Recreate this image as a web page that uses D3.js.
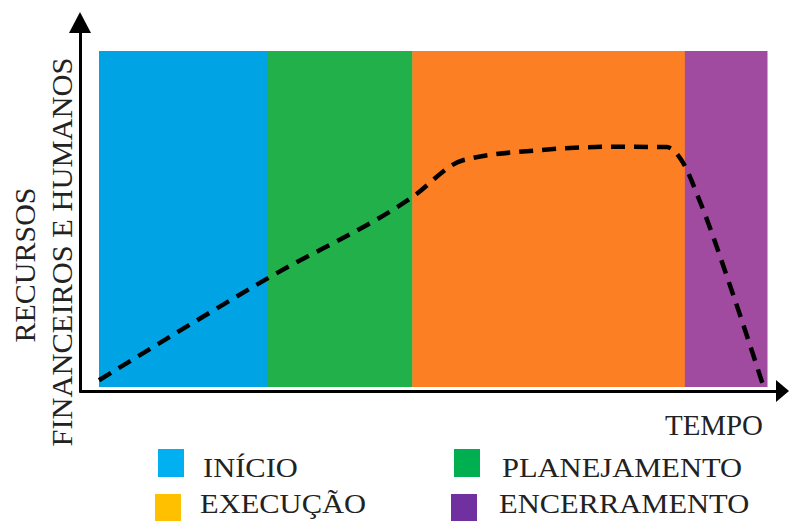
<!DOCTYPE html>
<html>
<head>
<meta charset="utf-8">
<script src="https://cdn.jsdelivr.net/npm/d3@7"></script>
<style>
  html, body { margin: 0; padding: 0; background: #fff; }
  svg { display: block; }
  text { font-family: "Liberation Serif", "Times New Roman", serif; }
</style>
</head>
<body>
<svg id="chart" width="789" height="521"></svg>
<script>
// Project phases along the time axis
const phases = ["INÍCIO", "PLANEJAMENTO", "EXECUÇÃO", "ENCERRAMENTO"];
const phaseStart = [0, 2.53, 4.69, 8.77];
const phaseEnd = [2.53, 4.69, 8.77, 10];
const bandColors = ["#00a3e3", "#22b04b", "#fd7f24", "#a04aa0"];
const legendColors = ["#00b0f0", "#00b050", "#ffc000", "#7030a0"];

// Resource level over time (dashed curve)
const timeValues = [0, 2.53, 4.69, 5.45, 6.6, 7.7, 8.5, 8.72, 9.0, 9.45, 9.95];
const resourceValues = [2, 32.4, 56.5, 67.5, 70.5, 71.5, 71.4, 67.5, 55, 30, 0];

const svg = d3.select("#chart");

const x = d3.scaleLinear().domain([0, 10]).range([99, 767]);
const y = d3.scaleLinear().domain([0, 100]).range([387, 51]);

// Phase bands
svg.append("g").selectAll("rect")
  .data(phases)
  .join("rect")
  .attr("x", (d, i) => x(phaseStart[i]))
  .attr("width", (d, i) => x(phaseEnd[i]) - x(phaseStart[i]) + 0.5)
  .attr("y", y(100))
  .attr("height", y(0) - y(100))
  .attr("fill", (d, i) => bandColors[i]);

// Resource curve
const line = d3.line()
  .x((d, i) => x(timeValues[i]))
  .y(d => y(d))
  .curve(d3.curveMonotoneX);

svg.append("path")
  .datum(resourceValues)
  .attr("d", line)
  .attr("fill", "none")
  .attr("stroke", "#000")
  .attr("stroke-width", 4.5)
  .attr("stroke-dasharray", "14,9");

// Axes (no ticks) with arrowheads
const xAxisScale = d3.scaleLinear().domain([0, 1]).range([79, 778]);
const yAxisScale = d3.scaleLinear().domain([0, 1]).range([392, 31]);

const gx = svg.append("g")
  .attr("transform", "translate(0,391)")
  .call(d3.axisBottom(xAxisScale).tickValues([]).tickSizeOuter(0));
gx.select(".domain").attr("stroke", "#000").attr("stroke-width", 3);

const gy = svg.append("g")
  .attr("transform", "translate(80,0)")
  .call(d3.axisLeft(yAxisScale).tickValues([]).tickSizeOuter(0));
gy.select(".domain").attr("stroke", "#000").attr("stroke-width", 3);

svg.append("path")
  .attr("d", `M${xAxisScale(1) - 2},380 L789,391 L${xAxisScale(1) - 2},402 Z`)
  .attr("fill", "#000");
svg.append("path")
  .attr("d", `M69,${yAxisScale(1) + 2} L80,12 L91,${yAxisScale(1) + 2} Z`)
  .attr("fill", "#000");

// Axis titles
svg.append("text")
  .attr("transform", "translate(35,265) rotate(-90)")
  .attr("text-anchor", "middle")
  .attr("font-size", 30)
  .attr("fill", "#222")
  .text("RECURSOS");
svg.append("text")
  .attr("transform", "translate(72,252) rotate(-90)")
  .attr("text-anchor", "middle")
  .attr("font-size", 30)
  .attr("fill", "#222")
  .attr("textLength", 389)
  .attr("lengthAdjust", "spacingAndGlyphs")
  .text("FINANCEIROS E HUMANOS");
svg.append("text")
  .attr("x", 763)
  .attr("y", 435)
  .attr("text-anchor", "end")
  .attr("font-size", 30)
  .attr("fill", "#222")
  .attr("textLength", 98)
  .attr("lengthAdjust", "spacingAndGlyphs")
  .text("TEMPO");

// Legend (two columns, two rows); labels slightly widened
const legendCol = [158, 454];
const legendOrder = [0, 1, 2, 3];
const legend = svg.append("g").selectAll("g")
  .data(legendOrder)
  .join("g")
  .attr("transform", (d, k) => `translate(${legendCol[k % 2] - (k >= 2 ? 3 : 0)},0)`);

legend.append("rect")
  .attr("y", (d, k) => k < 2 ? 449 : 494)
  .attr("width", 26)
  .attr("height", (d, k) => k < 2 ? 28 : 27)
  .attr("fill", d => legendColors[d]);

legend.append("text")
  .attr("transform", (d, k) => `translate(${k % 2 === 0 ? 45 : 48},${k < 2 ? 477 : 513}) scale(1.09,1)`)
  .attr("font-size", 28)
  .attr("fill", "#222")
  .text(d => phases[d]);
</script>
</body>
</html>
